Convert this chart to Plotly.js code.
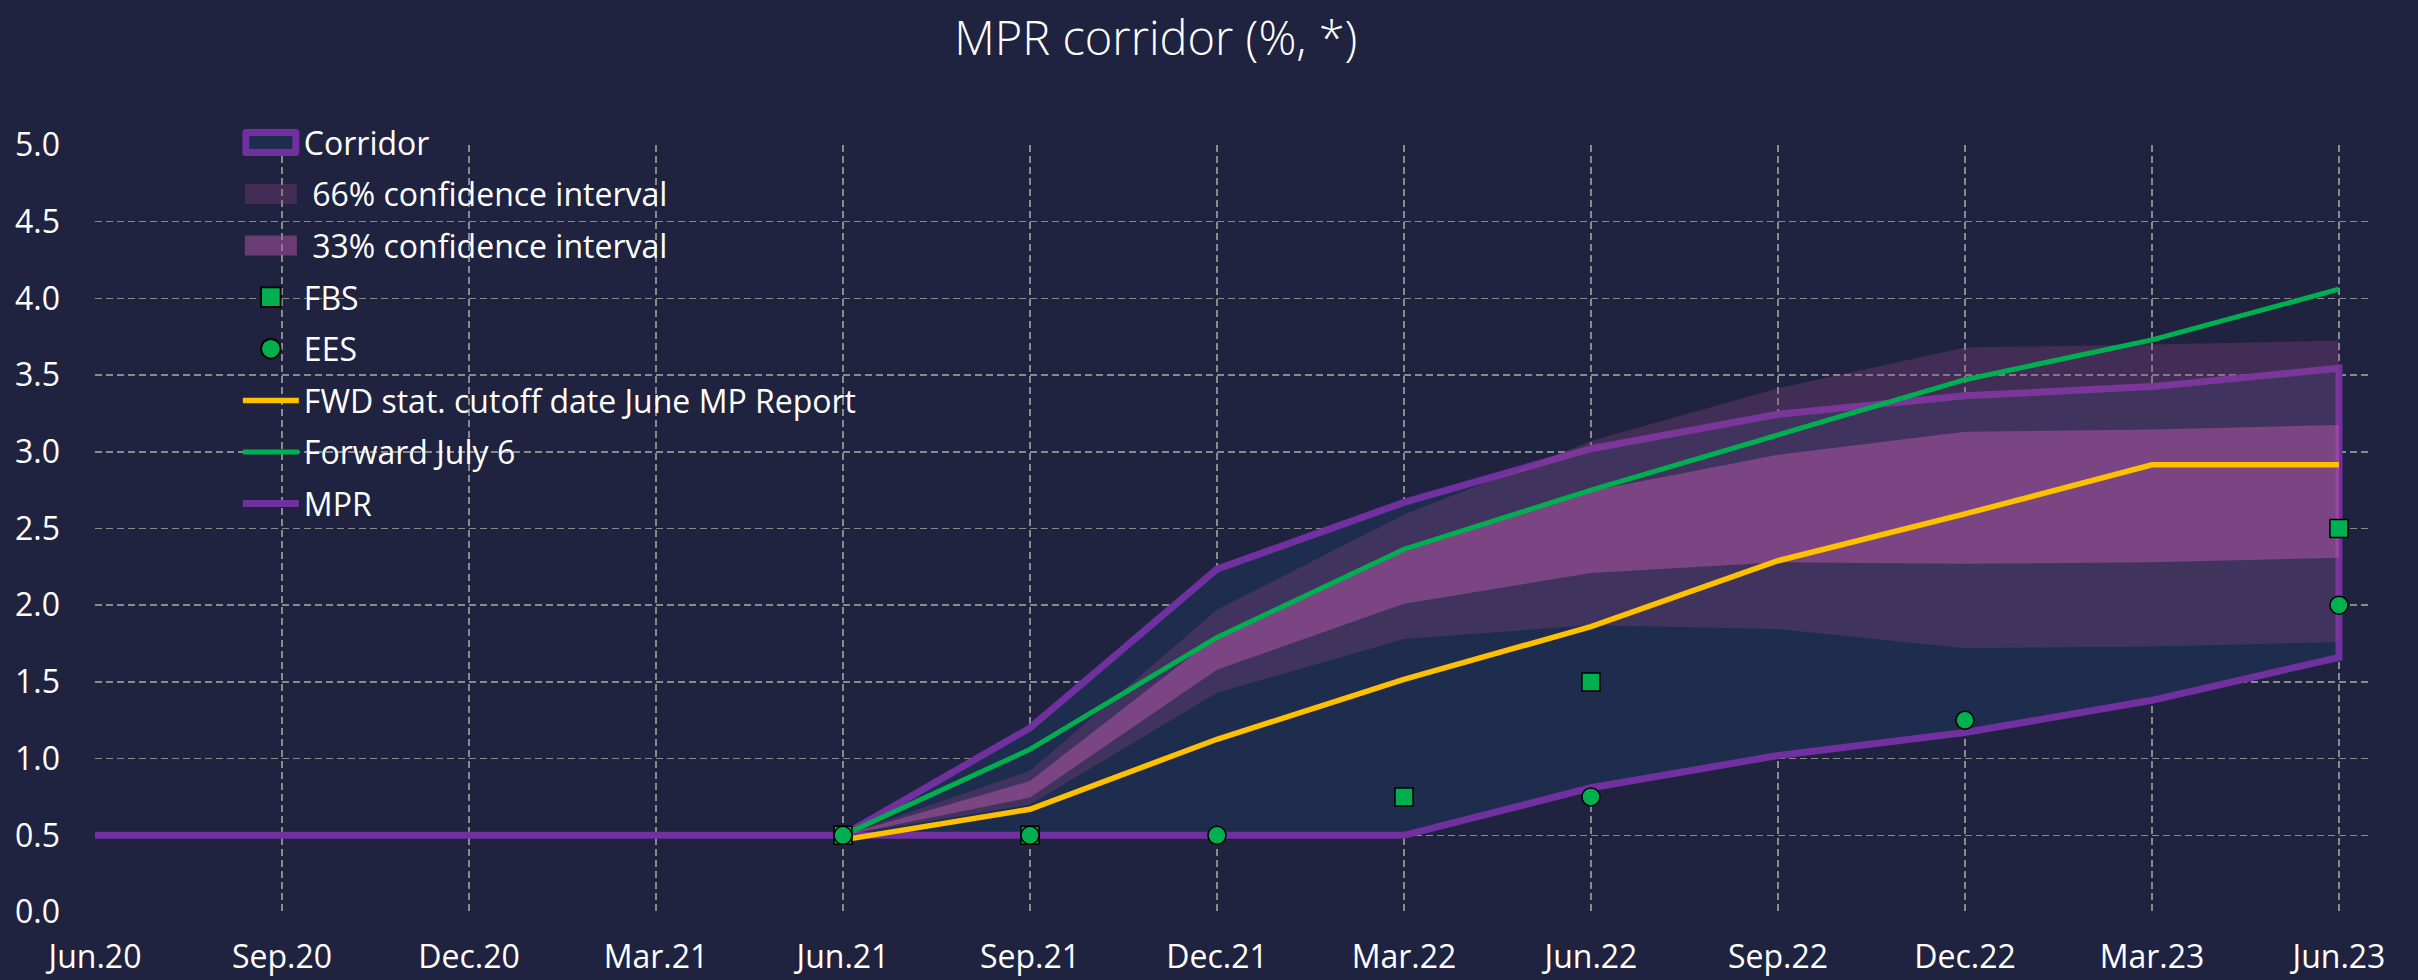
<!DOCTYPE html>
<html>
<head>
<meta charset="utf-8">
<script src="https://cdn.plot.ly/plotly-3.0.1.min.js"></script>
<style>
  html, body { margin: 0; padding: 0; background: #1f233f; }
  #chart { width: 2418px; height: 980px; }
</style>
</head>
<body>
<div id="chart"></div>
<script>
// ---- data ----
const categories = ['Jun.20','Sep.20','Dec.20','Mar.21','Jun.21','Sep.21','Dec.21','Mar.22','Jun.22','Sep.22','Dec.22','Mar.23','Jun.23'];

// projection horizon (Jun.21 .. Jun.23)
const projCategories = categories.slice(4);
const corridorUpper = [0.50, 1.20, 2.235, 2.67, 3.02, 3.245, 3.365, 3.425, 3.545];
const corridorLower = [0.50, 0.50, 0.50, 0.50, 0.81, 1.02, 1.17, 1.38, 1.66];
const ci66Upper = [0.50, 0.92, 1.97, 2.59, 3.07, 3.415, 3.68, 3.70, 3.725];
const ci66Lower = [0.50, 0.70, 1.43, 1.78, 1.87, 1.845, 1.72, 1.73, 1.76];
const ci33Upper = [0.50, 0.854, 1.80, 2.35, 2.745, 2.98, 3.13, 3.145, 3.175];
const ci33Lower = [0.50, 0.746, 1.58, 2.01, 2.21, 2.28, 2.27, 2.28, 2.31];
const fwdJune   = [0.47, 0.67, 1.126, 1.517, 1.86, 2.29, 2.595, 2.915, 2.915];
const fwdJuly6  = [0.50, 1.06, 1.79, 2.365, 2.75, 3.11, 3.47, 3.73, 4.06];

// history MPR
const mprCategories = ['Jun.20','Sep.20','Dec.20','Mar.21','Jun.21'];
const mprValues = [0.5, 0.5, 0.5, 0.5, 0.5];

// surveys
const fbsCategories = ['Jun.21','Sep.21','Mar.22','Jun.22','Jun.23'];
const fbsValues = [0.5, 0.5, 0.75, 1.5, 2.5];
const eesCategories = ['Jun.21','Sep.21','Dec.21','Jun.22','Dec.22','Jun.23'];
const eesValues = [0.5, 0.5, 0.5, 0.75, 1.25, 2.0];

const yTicks = [0, 0.5, 1, 1.5, 2, 2.5, 3, 3.5, 4, 4.5, 5];

// ---- helpers ----
function band(xs, up, lo) {
  return {
    x: xs.concat(xs.slice().reverse()),
    y: up.concat(lo.slice().reverse())
  };
}

const cor = band(projCategories, corridorUpper, corridorLower);
const b66 = band(projCategories, ci66Upper, ci66Lower);
const b33 = band(projCategories, ci33Upper, ci33Lower);

const PURPLE = '#7030a0', GREEN = '#00b050', GOLD = '#ffc000';

const traces = [
  { name: 'Corridor', x: cor.x, y: cor.y, type: 'scatter', mode: 'lines',
    fill: 'toself', fillcolor: '#1e2d4e', line: {color: PURPLE, width: 7},
    legendrank: 1, legendgroup: 'g1', hoverinfo: 'skip' },
  { name: ' 66% confidence interval', x: b66.x, y: b66.y, type: 'scatter', mode: 'lines',
    fill: 'toself', fillcolor: 'rgba(147,68,135,0.30)', line: {width: 0},
    legendrank: 2, legendgroup: 'g2', hoverinfo: 'skip' },
  { name: ' 33% confidence interval', x: b33.x, y: b33.y, type: 'scatter', mode: 'lines',
    fill: 'toself', fillcolor: 'rgba(181,86,169,0.50)', line: {width: 0},
    legendrank: 3, legendgroup: 'g3', hoverinfo: 'skip' },
  { name: 'MPR', x: mprCategories, y: mprValues, type: 'scatter', mode: 'lines',
    line: {color: PURPLE, width: 7}, legendrank: 8, legendgroup: 'g8' },
  { name: 'FWD stat. cutoff date June MP Report', x: projCategories, y: fwdJune, type: 'scatter', mode: 'lines',
    line: {color: GOLD, width: 5.5}, legendrank: 6, legendgroup: 'g6' },
  { name: 'Forward July 6', x: projCategories, y: fwdJuly6, type: 'scatter', mode: 'lines',
    line: {color: GREEN, width: 5}, legendrank: 7, legendgroup: 'g7' },
  { name: 'FBS', x: fbsCategories, y: fbsValues, type: 'scatter', mode: 'markers',
    marker: {symbol: 'square', size: 18, color: GREEN, line: {color: '#000', width: 1.5}},
    legendrank: 4, legendgroup: 'g4' },
  { name: 'EES', x: eesCategories, y: eesValues, type: 'scatter', mode: 'markers',
    marker: {symbol: 'circle', size: 18, color: GREEN, line: {color: '#000', width: 1.5}},
    legendrank: 5, legendgroup: 'g5' }
];

const layout = {
  width: 2418, height: 980,
  paper_bgcolor: '#1f233f', plot_bgcolor: '#1f233f',
  margin: {l: 95, r: 48, t: 145, b: 68},
  title: { text: 'MPR corridor (%, *)', x: 0.478, xanchor: 'center', xref: 'container',
           y: 0.961, yanchor: 'middle',
           font: {family: 'Open Sans, sans-serif', size: 47, color: '#ffffff', weight: 300} },
  xaxis: {
    type: 'category', categoryorder: 'array', categoryarray: categories,
    range: [0, 12.166], tickvals: categories, ticktext: categories,
    showgrid: true, gridcolor: '#8a8a8a', gridwidth: 1.5, griddash: '7px,4px',
    zeroline: false, showline: false, ticks: '',
    ticklabelstandoff: 23,
    tickfont: {family: 'Open Sans, sans-serif', size: 32, color: '#ffffff'}
  },
  yaxis: {
    range: [0, 5], tickvals: yTicks, tickformat: '.1f',
    showgrid: true, gridcolor: '#8a8a8a', gridwidth: 1.5, griddash: '7px,4px',
    zeroline: false, showline: false, ticks: '',
    ticklabelstandoff: 34,
    tickfont: {family: 'Open Sans, sans-serif', size: 32, color: '#ffffff'}
  },
  showlegend: true,
  legend: {
    x: 0.0628, y: 1.039, xanchor: 'left', yanchor: 'top', xref: 'paper', yref: 'paper',
    bgcolor: 'rgba(0,0,0,0)', borderwidth: 0,
    itemwidth: 56, tracegroupgap: 7, traceorder: 'grouped',
    font: {family: 'Open Sans, sans-serif', size: 32, color: '#ffffff'}
  }
};

Plotly.newPlot('chart', traces, layout, {displayModeBar: false, staticPlot: true}).then(function (gd) {
  // enlarge legend symbols to the block style of the original chart
  gd.querySelectorAll('.legend .traces').forEach(function (tr) {
    var label = (tr.querySelector('.legendtext') || {}).textContent || '';
    var fillPath = tr.querySelector('.legendfill path');
    var linePath = tr.querySelector('.legendlines path');
    if (label === 'Corridor') {
      if (fillPath) fillPath.setAttribute('d', 'M8,-10h50v20h-50z');
      if (linePath) { linePath.setAttribute('d', 'M8,-10h50v20h-50z'); linePath.style.fill = 'none'; linePath.style.strokeLinejoin = 'round'; }
    } else if (fillPath) {
      fillPath.setAttribute('d', 'M7,-10h52v20h-52z');
    }
    tr.querySelectorAll('.legendpoints path').forEach(function (p) {
      var t = p.getAttribute('transform') || '';
      p.setAttribute('transform', t + ' scale(1.22)');
    });
  });
});
</script>
</body>
</html>
